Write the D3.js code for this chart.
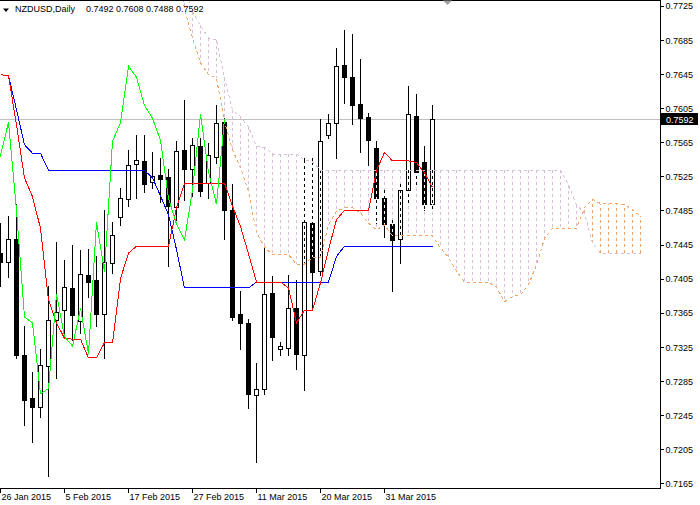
<!DOCTYPE html>
<html><head><meta charset="utf-8">
<script src="https://cdn.jsdelivr.net/npm/d3@7"></script>
<style>
html,body{margin:0;padding:0;background:#fff;}
svg{display:block;font-family:"Liberation Sans",Arial,sans-serif;}
</style></head><body>
<svg id="c" width="700" height="505"></svg>
<script>
// ---------- data ----------
const symbol = "NZDUSD,Daily";
const ohlcText = "0.7492 0.7608 0.7488 0.7592";
const lastPrice = 0.7592;
const dateLabels = ["26 Jan 2015","5 Feb 2015","17 Feb 2015","27 Feb 2015","11 Mar 2015","20 Mar 2015","31 Mar 2015"];
const dateLabelBars = [0,8,16,24,32,40,48];
const priceTicks = [0.7165,0.7205,0.7245,0.7285,0.7325,0.7365,0.7405,0.7445,0.7485,0.7525,0.7565,0.7605,0.7645,0.7685,0.7725];

const open  = [.7435,.7424,.7451,.7316,.7265,.7254,.7302,.7356,.7368,.7394,.7355,.7409,.7403,.7363,.7423,.7477,.7498,.7539,.7543,.7518,.7526,.7524,.7489,.7556,.7533,.7560,.7517,.7548,.7589,.7485,.7363,.7353,.7269,.7275,.7388,.7322,.7324,.7370,.7316,.7470,.7414,.7573,.7587,.7655,.7641,.7610,.7595,.7558,.7500,.7469,.7451,.7509,.7596,.7542,.7492];
const high  = [.7470,.7478,.7492,.7349,.7296,.7323,.7396,.7448,.7427,.7444,.7439,.7440,.7431,.7485,.7471,.7511,.7556,.7573,.7573,.7554,.7546,.7534,.7566,.7614,.7570,.7570,.7564,.7609,.7593,.7516,.7390,.7358,.7306,.7441,.7408,.7331,.7409,.7403,.7546,.7546,.7592,.7598,.7675,.7697,.7692,.7663,.7599,.7566,.7509,.7474,.7516,.7631,.7621,.7560,.7608];
const low   = [.7396,.7407,.7312,.7233,.7214,.7243,.7174,.7288,.7337,.7333,.7341,.7383,.7350,.7312,.7411,.7468,.7490,.7499,.7506,.7511,.7495,.7420,.7474,.7497,.7502,.7502,.7500,.7541,.7452,.7356,.7322,.7253,.7190,.7270,.7310,.7315,.7315,.7299,.7274,.7370,.7409,.7570,.7547,.7611,.7586,.7553,.7538,.7470,.7454,.7390,.7423,.7495,.7516,.7485,.7488];
const close = [.7425,.7451,.7315,.7263,.7255,.7304,.7357,.7366,.7395,.7362,.7410,.7401,.7363,.7424,.7456,.7499,.7538,.7544,.7516,.7525,.7522,.7490,.7555,.7533,.7562,.7508,.7550,.7588,.7485,.7360,.7353,.7270,.7276,.7387,.7337,.7326,.7370,.7317,.7471,.7413,.7566,.7588,.7654,.7641,.7608,.7593,.7567,.7499,.7469,.7450,.7509,.7598,.7530,.7492,.7592];

// Ichimoku lines
const tenkan = [.7644,.7643,.7585,.7523,.7501,.7464,.7380,.7353,.7335,.7334,.7334,.7312,.7312,.7330,.7330,.7405,.7435,.7443,.7443,.7443,.7443,.7443,.7488,.7517,.7517,.7517,.7517,.7517,.7517,.7490,.7466,.7434,.7401,.7401,.7401,.7401,.7394,.7353,.7368,.7368,.7400,.7439,.7474,.7485,.7485,.7485,.7485,.7532,.7553,.7543,.7543,.7543,.7541,.7529,.7512];
const kijun  = [.7644,.7643,.7603,.7562,.7552,.7552,.7532,.7532,.7532,.7532,.7532,.7532,.7532,.7532,.7532,.7532,.7532,.7532,.7532,.7523,.7502,.7480,.7439,.7394,.7394,.7394,.7394,.7394,.7394,.7394,.7394,.7394,.7401,.7401,.7401,.7401,.7401,.7401,.7401,.7401,.7401,.7401,.7431,.7443,.7443,.7443,.7443,.7443,.7443,.7443,.7443,.7443,.7443,.7443,.7443];
const spanStart = 22; // bar position of first senkou value
const spanA = [.7767,.7722,.7687,.7658,.7644,.7640,.7589,.7556,.7535,.7507,
               .7459,.7442,.7433,.7433,.7433,.7422,.7422,.7430,.7430,.7468,
               .7484,.7488,.7488,.7482,.7470,.7462,.7468,.7455,.7455,.7455,
               .7455,.7455,.7455,.7441,.7430,.7414,.7401,.7401,.7401,.7401,
               .7395,.7378,.7384,.7386,.7398,.7421,.7452,.7464,.7464,.7464,
               .7464,.7488,.7498,.7493,.7493,.7493,.7492,.7486,.7478];
const spanB = [.7779,.7749,.7718,.7702,.7687,.7685,.7640,.7603,.7595,.7583,
               .7560,.7559,.7551,.7551,.7551,.7551,.7544,.7542,.7532,.7532,
               .7532,.7532,.7532,.7532,.7532,.7532,.7532,.7532,.7532,.7532,
               .7532,.7532,.7532,.7532,.7532,.7532,.7532,.7532,.7532,.7532,
               .7532,.7532,.7532,.7532,.7532,.7532,.7532,.7532,.7532,
               .7515,.7491,.7482,.7447,.7435,.7435,.7435,.7435,.7435,.7435];
const chikouShift = 26;

// ---------- layout ----------
const plotW = 660, plotH = 488;
const svg = d3.select("#c");
const x = d3.scaleLinear().domain([0, 80]).range([0.5, 640.5]);
const y = d3.scaleLinear().domain([0.7165, 0.7725]).range([483.3, 5.7]);

svg.append("defs").append("clipPath").attr("id","clip")
  .append("rect").attr("x",0).attr("y",1).attr("width",plotW).attr("height",plotH-1);
const plot = svg.append("g").attr("clip-path","url(#clip)");

// last price line (behind)
plot.append("line").attr("x1",0).attr("x2",plotW)
  .attr("y1",Math.round(y(lastPrice))+0.5).attr("y2",Math.round(y(lastPrice))+0.5)
  .attr("stroke","#c0c0c0").attr("shape-rendering","crispEdges");

const spanIdx = d3.range(spanA.length);
const COL_A = "#f4a460", COL_B = "#d8bfd8";
// cloud hatch
plot.append("g").selectAll("line").data(spanIdx).join("line")
  .attr("x1", i => x(spanStart+i)).attr("x2", i => x(spanStart+i))
  .attr("y1", i => y(spanB[i])).attr("y2", i => y(spanA[i]))
  .attr("stroke", i => spanA[i] >= spanB[i] ? COL_A : COL_B)
  .attr("stroke-dasharray","3,3").attr("shape-rendering","crispEdges");

// candles
const bars = d3.range(close.length);
const cg = plot.append("g").attr("shape-rendering","crispEdges");
cg.selectAll("line.w").data(bars).join("line").attr("class","w")
  .attr("x1", k => x(k)).attr("x2", k => x(k))
  .attr("y1", k => Math.round(y(high[k]))).attr("y2", k => Math.round(y(low[k]))+1)
  .attr("stroke","#000");
cg.selectAll("rect").data(bars).join("rect")
  .attr("x", k => x(k)-2).attr("width", 4)
  .attr("y", k => Math.round(y(Math.max(open[k],close[k])))+0.5)
  .attr("height", k => Math.max(1, Math.round(y(Math.min(open[k],close[k]))) - Math.round(y(Math.max(open[k],close[k])))))
  .attr("fill", k => close[k] >= open[k] ? "#fff" : "#000")
  .attr("stroke","#000");

// dotted hatch crossing the candles
const over = bars.filter(k => k >= spanStart).map(k => {
  const i = k - spanStart;
  const top = Math.max(Math.min(y(spanA[i]), y(spanB[i])), y(high[k]));
  const bot = Math.min(Math.max(y(spanA[i]), y(spanB[i])), y(low[k]));
  return {k, top, bot};
}).filter(d => d.bot > d.top + 1);
const og = plot.append("g").attr("shape-rendering","crispEdges");
og.selectAll("line.a").data(over).join("line").attr("class","a")
  .attr("x1", d => x(d.k)).attr("x2", d => x(d.k)).attr("y1", d => d.top).attr("y2", d => d.bot)
  .attr("stroke","#fff");
og.selectAll("line.b").data(over).join("line").attr("class","b")
  .attr("x1", d => x(d.k)).attr("x2", d => x(d.k)).attr("y1", d => d.top).attr("y2", d => d.bot)
  .attr("stroke","#000").attr("stroke-dasharray","3,3");

// senkou span lines
const spanLine = arr => d3.line().x(i => x(spanStart+i)).y(i => y(arr[i]))(spanIdx);
plot.append("path").attr("d", spanLine(spanB)).attr("fill","none").attr("stroke",COL_B)
  .attr("stroke-dasharray","3,3").attr("shape-rendering","crispEdges");
plot.append("path").attr("d", spanLine(spanA)).attr("fill","none").attr("stroke",COL_A)
  .attr("stroke-dasharray","3,3").attr("shape-rendering","crispEdges");

// tenkan / kijun / chikou
const lineK = arr => d3.line().x(k => x(k)).y(k => y(arr[k]))(bars);
plot.append("path").attr("d", lineK(kijun)).attr("fill","none").attr("stroke","#0000ff").attr("shape-rendering","crispEdges");
plot.append("path").attr("d", lineK(tenkan)).attr("fill","none").attr("stroke","#ff0000").attr("shape-rendering","crispEdges");
plot.append("path").attr("d", d3.line().x(k => x(k - chikouShift)).y(k => y(close[k]))(bars))
  .attr("fill","none").attr("stroke","#00ff00").attr("shape-rendering","crispEdges");

// frame
const frame = svg.append("g").attr("stroke","#000").attr("shape-rendering","crispEdges");
frame.append("line").attr("x1",0).attr("x2",plotW+0.5).attr("y1",0.5).attr("y2",0.5);
frame.append("line").attr("x1",0).attr("x2",plotW+0.5).attr("y1",plotH+0.5).attr("y2",plotH+0.5);
frame.append("line").attr("x1",plotW+0.5).attr("x2",plotW+0.5).attr("y1",0).attr("y2",plotH+1);

// right price axis
const ya = svg.append("g").attr("transform",`translate(${plotW+0.5},0)`)
  .call(d3.axisRight(y).tickValues(priceTicks).tickFormat(d3.format(".4f")).tickSize(3).tickPadding(2).tickSizeOuter(0));
ya.select(".domain").remove();
ya.selectAll("line").attr("shape-rendering","crispEdges");
ya.selectAll("text").attr("font-size",9).attr("font-family","Liberation Sans, Arial, sans-serif").attr("fill","#000").attr("dy","0.36em");

// last price label
const ly = Math.round(y(lastPrice));
svg.append("rect").attr("x",plotW+1).attr("y",ly-6).attr("width",37).attr("height",12).attr("fill","#000");
svg.append("text").attr("x",plotW+6).attr("y",ly+3.5).attr("fill","#fff").attr("font-size",9).text(d3.format(".4f")(lastPrice));

// bottom time axis
const xa = svg.append("g").attr("transform",`translate(-1,${plotH+0.5})`)
  .call(d3.axisBottom(x).tickValues(dateLabelBars).tickFormat((d,i) => dateLabels[i]).tickSize(4).tickPadding(1).tickSizeOuter(0));
xa.select(".domain").remove();
xa.selectAll("line").attr("shape-rendering","crispEdges");
xa.selectAll("text").attr("font-size",9).attr("font-family","Liberation Sans, Arial, sans-serif").attr("fill","#000")
  .attr("text-anchor","start").attr("dx",1.5);

// header
svg.append("path").attr("d","M3,8.5 L9,8.5 L6,12 Z").attr("fill","#000");
svg.append("text").attr("x",15).attr("y",11.5).attr("font-size",9).attr("fill","#000").text(symbol);
svg.append("text").attr("x",86).attr("y",11.5).attr("font-size",9).attr("fill","#000").text(ohlcText);
// chart-shift marker
svg.append("path").attr("d","M443,0.5 L452,0.5 L447.5,5 Z").attr("fill","#a0a0a0");
</script>
</body></html>
